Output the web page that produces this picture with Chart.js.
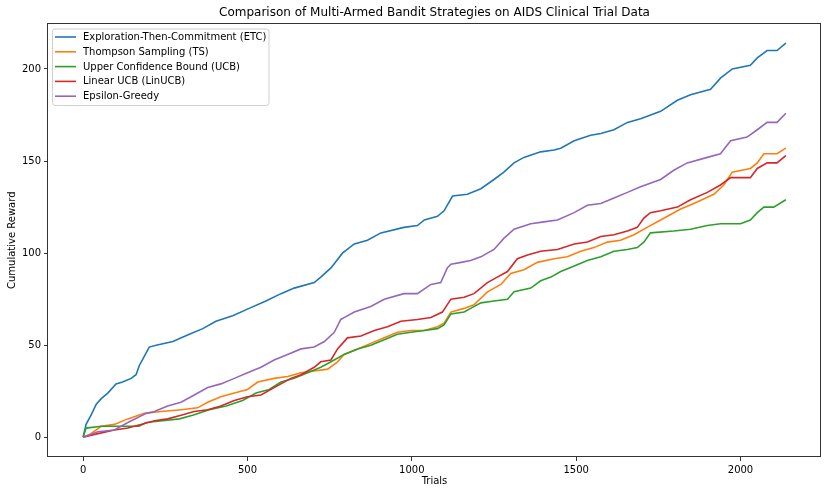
<!DOCTYPE html>
<html>
<head>
<meta charset="utf-8">
<script src="https://cdn.jsdelivr.net/npm/chart.js@4.4.1/dist/chart.umd.min.js"></script>
<style>
html,body{margin:0;padding:0;background:#fff;}
#c{display:block;}
</style>
</head>
<body>
<canvas id="c" width="828" height="494" style="width:828px;height:494px"></canvas>
<script>
// ---- data ----
const chartTitle = "Comparison of Multi-Armed Bandit Strategies on AIDS Clinical Trial Data";
const xAxisLabel = "Trials";
const yAxisLabel = "Cumulative Reward";
const seriesNames = ["Exploration-Then-Commitment (ETC)", "Thompson Sampling (TS)", "Upper Confidence Bound (UCB)", "Linear UCB (LinUCB)", "Epsilon-Greedy"];
const xTicks = [0, 500, 1000, 1500, 2000];
const yTicks = [0, 50, 100, 150, 200];

const etcTrials = [0,9,24,40,55,75,100,120,146,161,171,186,201,222,273,323,364,404,455,505,556,602,642,703,723,754,789,825,865,906,976,1017,1038,1078,1098,1124,1169,1210,1250,1280,1311,1341,1392,1433,1453,1494,1544,1575,1615,1656,1696,1757,1808,1848,1909,1939,1975,2030,2051,2081,2111,2138];
const etcReward = [0,7,12,18,21,24,29,30,32,34,39,44,49,50,52,56,59,63,66,70,74,78,81,84,87,92,100,105,107,111,114,115,118,120,123,131,132,135,140,144,149,152,155,156,157,161,164,165,167,171,173,177,183,186,189,195,200,202,206,210,210,214];

const tsTrials = [0,24,55,95,136,186,237,298,348,379,419,460,500,531,581,622,663,703,744,774,794,835,875,916,956,997,1038,1078,1098,1119,1159,1189,1230,1271,1301,1341,1382,1433,1473,1514,1554,1595,1635,1676,1716,1757,1818,1858,1919,1949,1975,2030,2051,2071,2111,2138];
const tsReward = [0,2,6,7,10,13,14,15,16,19,22,24,26,30,32,33,35,36,37,41,45,48,51,54,57,58,58,60,62,68,70,72,79,83,89,91,95,97,98,101,103,106,107,110,114,118,124,127,132,137,144,146,149,154,154,157];

const ucbTrials = [0,9,55,136,170,192,242,293,333,384,435,485,526,566,602,642,683,723,764,794,835,875,916,956,997,1038,1078,1098,1119,1159,1179,1210,1250,1291,1311,1362,1392,1423,1453,1494,1534,1575,1615,1656,1686,1706,1726,1797,1848,1899,1939,2000,2030,2051,2071,2101,2138];
const ucbReward = [0,5,6,6,6,8,9,10,12,15,17,20,24,26,30,32,35,38,42,45,48,50,53,56,57,58,59,61,67,68,70,73,74,75,79,81,85,87,90,93,96,98,101,102,103,106,111,112,113,115,116,116,118,122,125,125,129];

const linucbTrials = [0,45,95,136,176,217,257,298,338,379,419,460,500,541,581,632,663,703,723,754,774,804,845,886,926,967,1017,1058,1093,1119,1159,1189,1230,1260,1291,1321,1352,1392,1443,1494,1534,1575,1615,1656,1686,1706,1726,1757,1808,1848,1899,1939,1970,2030,2051,2081,2111,2138];
const linucbReward = [0,2,4,5,7,9,10,12,14,15,17,20,22,23,27,32,34,38,41,42,48,54,55,58,60,63,64,65,68,75,76,78,84,87,90,97,99,101,102,105,106,109,110,112,114,119,122,123,125,129,133,137,141,141,146,149,149,153];

const epsTrials = [0,45,95,136,192,217,257,298,338,379,419,460,500,541,581,622,663,703,734,764,784,794,825,875,916,976,1017,1058,1088,1108,1119,1150,1179,1210,1250,1280,1311,1362,1402,1443,1494,1534,1575,1615,1656,1696,1757,1797,1838,1899,1939,1970,2020,2051,2081,2111,2138];
const epsReward = [0,3,4,8,13,14,17,19,23,27,29,32,35,38,42,45,48,49,52,57,64,65,68,71,75,78,78,83,84,92,94,95,96,98,102,108,113,116,117,118,122,126,127,130,133,136,140,145,149,152,154,161,163,167,171,171,176];

const seriesColors = ["#1f77b4", "#ff7f0e", "#2ca02c", "#d62728", "#9467bd"];
// ----------------------------------------------

const FONT = "'DejaVu Sans', sans-serif";
const toPts = (xs, ys) => xs.map((x, i) => ({x: x, y: ys[i]}));
const allSeries = [
  toPts(etcTrials, etcReward),
  toPts(tsTrials, tsReward),
  toPts(ucbTrials, ucbReward),
  toPts(linucbTrials, linucbReward),
  toPts(epsTrials, epsReward)
];

const datasets = allSeries.map((pts, i) => ({
  label: seriesNames[i],
  data: pts,
  borderColor: seriesColors[i],
  backgroundColor: seriesColors[i],
  borderWidth: 1.6,
  pointRadius: 0,
  tension: 0,
  fill: false,
  order: 5 - i
}));

const xMaxData = Math.max(...etcTrials, ...tsTrials, ...ucbTrials, ...linucbTrials, ...epsTrials);
const yMaxData = Math.max(...etcReward, ...tsReward, ...ucbReward, ...linucbReward, ...epsReward);
const xMargin = xMaxData * 0.05;
const yMargin = yMaxData * 0.05;

const framePlugin = {
  id: 'frame',
  afterDraw(chart) {
    const ctx = chart.ctx;
    const a = chart.chartArea;
    ctx.save();
    // spines as solid 1px rects
    const L = Math.round(a.left), T = Math.round(a.top);
    const R = Math.round(a.right), B = Math.round(a.bottom);
    ctx.fillStyle = '#333';
    ctx.fillRect(L - 1, T - 1, R - L + 1, 1);   // top
    ctx.fillRect(R - 1, T - 1, 1, B - T + 1);   // right
    ctx.fillRect(L - 1, T - 1, 1, B - T + 1);   // left
    ctx.fillRect(L - 1, B - 1, R - L + 1, 1);   // bottom
    // title
    ctx.fillStyle = '#000';
    ctx.textAlign = 'center';
    ctx.textBaseline = 'middle';
    ctx.font = '12px ' + FONT;
    ctx.fillText(chartTitle, (a.left + a.right) / 2, 12.5);
    // axis labels
    ctx.font = '10px ' + FONT;
    ctx.fillText(xAxisLabel, (a.left + a.right) / 2, 481);
    ctx.save();
    ctx.translate(12, (a.top + a.bottom) / 2);
    ctx.rotate(-Math.PI / 2);
    ctx.fillText(yAxisLabel, 0, 0);
    ctx.restore();
    // legend
    const lx = a.left + 4, ly = a.top + 5, lw = 217, lh = 77;
    ctx.fillStyle = 'rgba(255,255,255,0.8)';
    ctx.strokeStyle = '#d0d0d0';
    ctx.lineWidth = 1;
    const r = 3;
    ctx.beginPath();
    ctx.moveTo(lx + r, ly + 0.5);
    ctx.lineTo(lx + lw - r, ly + 0.5);
    ctx.quadraticCurveTo(lx + lw, ly + 0.5, lx + lw, ly + r);
    ctx.lineTo(lx + lw, ly + lh - r);
    ctx.quadraticCurveTo(lx + lw, ly + lh, lx + lw - r, ly + lh);
    ctx.lineTo(lx + r, ly + lh);
    ctx.quadraticCurveTo(lx + 0.5, ly + lh, lx + 0.5, ly + lh - r);
    ctx.lineTo(lx + 0.5, ly + r);
    ctx.quadraticCurveTo(lx + 0.5, ly + 0.5, lx + r, ly + 0.5);
    ctx.closePath();
    ctx.fill();
    ctx.stroke();
    ctx.font = '10px ' + FONT;
    ctx.textAlign = 'left';
    chart.data.datasets.forEach((ds, i) => {
      const yy = ly + 8.5 + i * 14.8;
      ctx.strokeStyle = ds.borderColor;
      ctx.lineWidth = 1.6;
      ctx.beginPath();
      ctx.moveTo(lx + 3, yy);
      ctx.lineTo(lx + 24, yy);
      ctx.stroke();
      ctx.fillStyle = '#000';
      ctx.fillText(ds.label, lx + 31, yy + 0.5);
    });
    ctx.restore();
  }
};

new Chart(document.getElementById('c'), {
  type: 'line',
  data: { datasets: datasets },
  options: {
    responsive: false,
    animation: false,
    devicePixelRatio: 1,
    layout: { padding: { left: 0, right: 7, top: 23.5, bottom: 0 } },
    plugins: { legend: { display: false }, tooltip: { enabled: false }, title: { display: false } },
    scales: {
      x: {
        type: 'linear',
        min: -xMargin,
        max: xMaxData + xMargin,
        afterFit: s => { s.height = 37; },
        afterBuildTicks: s => { s.ticks = xTicks.map(v => ({ value: v })); },
        ticks: { font: { family: FONT, size: 10 }, color: '#000', padding: 3, maxRotation: 0, autoSkip: false, callback: v => String(v) },
        grid: { drawOnChartArea: false, drawTicks: true, tickLength: 4, tickColor: '#333' },
        border: { display: false }
      },
      y: {
        type: 'linear',
        min: -yMargin,
        max: yMaxData + yMargin,
        afterFit: s => { s.width = 48; },
        afterBuildTicks: s => { s.ticks = yTicks.map(v => ({ value: v })); },
        ticks: { font: { family: FONT, size: 10 }, color: '#000', padding: 3, autoSkip: false, callback: v => String(v) },
        grid: { drawOnChartArea: false, drawTicks: true, tickLength: 4, tickColor: '#333' },
        border: { display: false }
      }
    }
  },
  plugins: [framePlugin]
});
</script>
</body>
</html>
